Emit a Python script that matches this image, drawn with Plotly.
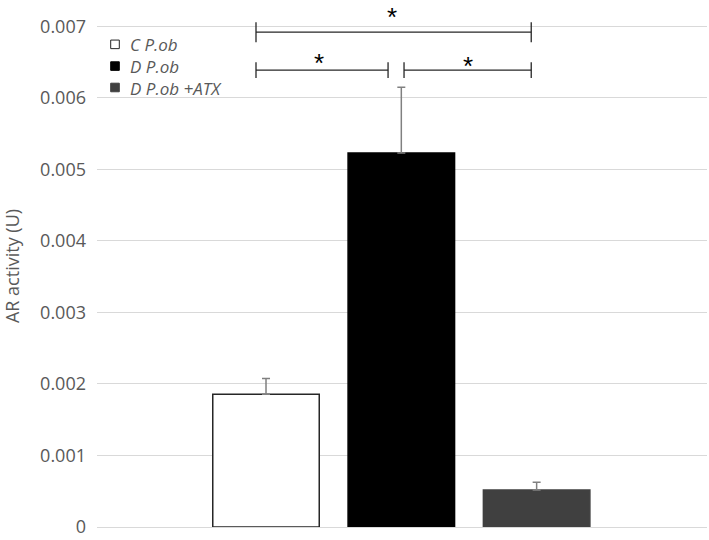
import plotly.graph_objects as go

groups = ["C P.ob", "D P.ob", "D P.ob +ATX"]
values = [0.001855, 0.00523, 0.000516]
errors = [0.00022, 0.00092, 0.00011]
fills = ["#ffffff", "#000000", "#404040"]
outlines = ["#262626", "#000000", "#404040"]

# significance brackets: (left pos, right pos, y level, tick half-height)
brackets = [(-0.074, 1.96, 0.00692, 0.00014), (-0.074, 0.902, 0.00639, 0.00011), (1.02, 1.96, 0.00639, 0.00011)]
# significance stars: (x pos, y pos)
stars = [(0.931, 0.00719), (0.392, 0.00655), (1.493, 0.00650)]

W, H = 709, 540
ML, MR, MT, MB = 97, 2, 5, 11
PW, PH = W - ML - MR, H - MT - MB

fig = go.Figure()
for i, g in enumerate(groups):
    fig.add_trace(go.Bar(
        x=[i], y=[values[i]], name=g, width=0.787, showlegend=False,
        marker=dict(color=fills[i], line=dict(color=outlines[i], width=1.5)),
        error_y=dict(type="data", array=[errors[i]], arrayminus=[0], symmetric=False,
                     color="#808080", thickness=1.5, width=4),
    ))

for x0, x1, yl, h in brackets:
    fig.add_shape(type="line", x0=x0, x1=x1, y0=yl, y1=yl, xref="x", yref="y",
                  line=dict(color="#262626", width=1.3))
    for xe in (x0, x1):
        fig.add_shape(type="line", x0=xe, x1=xe, y0=yl - h, y1=yl + h, xref="x", yref="y",
                      line=dict(color="#262626", width=1.3))
for xs, ys in stars:
    fig.add_annotation(x=xs, y=ys, text="*", showarrow=False, yanchor="middle", yshift=-4,
                       font=dict(family="Liberation Sans", size=26, color="#000000"))

# legend (drawn manually to match the compact row spacing)
rows_py = [44.5, 66.3, 87.8]
for i, g in enumerate(groups):
    cy = (H - MB - rows_py[i]) / PH
    hs = 4.3 / PH
    fig.add_shape(type="rect", xref="paper", yref="paper",
                  x0=(110.7 - ML) / PW, x1=(119.3 - ML) / PW, y0=cy - hs, y1=cy + hs,
                  fillcolor=fills[i], line=dict(color=outlines[i], width=1))
fig.add_annotation(xref="paper", yref="paper", x=(127.5 - ML) / PW,
                   y=(H - MB - rows_py[1]) / PH,
                   xanchor="left", yanchor="middle", align="left", showarrow=False,
                   text="<br>".join("<i>" + g + "</i>" for g in groups),
                   font=dict(family="Open Sans", size=17, color="#595959"))

fig.update_layout(
    width=W, height=H,
    margin=dict(l=ML, r=MR, t=MT, b=MB),
    plot_bgcolor="white", paper_bgcolor="white",
    font=dict(family="Open Sans", size=18, color="#595959"),
    showlegend=False,
    xaxis=dict(range=[-1.249, 3.259], showticklabels=False, showgrid=False, zeroline=False,
               showline=False, ticks=""),
    yaxis=dict(range=[0, 0.0073], tickvals=[0, 0.001, 0.002, 0.003, 0.004, 0.005, 0.006, 0.007],
               ticktext=["0", "0.001", "0.002", "0.003", "0.004", "0.005", "0.006", "0.007"],
               showgrid=True, gridcolor="#d9d9d9", gridwidth=1, zeroline=True, zerolinecolor="#d9d9d9",
               zerolinewidth=1, showline=False, ticks="", ticklabelstandoff=10,
               ticklabeloverflow="allow",
               tickfont=dict(size=18, color="#595959"),
               title=dict(text="AR activity (U)", font=dict(size=18, color="#595959"), standoff=16)),
)

fig.write_html("out.html", config={"displayModeBar": False},
               post_script="document.body.style.margin='0';")
